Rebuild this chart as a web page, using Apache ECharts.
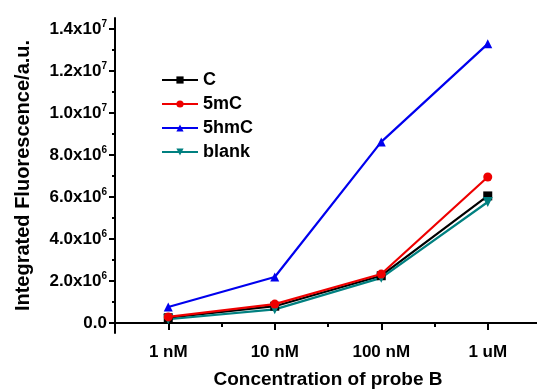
<!DOCTYPE html>
<html><head><meta charset="utf-8">
<script src="https://cdn.jsdelivr.net/npm/echarts@6/dist/echarts.min.js"></script>
<style>html,body{margin:0;padding:0;background:#fff}#c{width:537px;height:390px}</style>
</head><body><div id="c"></div>
<script>
const categories = ['1 nM', '10 nM', '100 nM', '1 uM'];
const seriesNames = ['C', '5mC', '5hmC', 'blank'];
const valC = [0.25e6, 0.8e6, 2.25e6, 6.05e6];
const val5mC = [0.29e6, 0.9e6, 2.33e6, 6.95e6];
const val5hmC = [0.76e6, 2.19e6, 8.62e6, 13.29e6];
const valBlank = [0.18e6, 0.65e6, 2.15e6, 5.76e6];
const yTickValues = [0, 2e6, 4e6, 6e6, 8e6, 10e6, 12e6, 14e6];
const yMinorValues = [1e6, 3e6, 5e6, 7e6, 9e6, 11e6, 13e6];
const xTickValues = [1, 2, 3, 4];
const xMinorValues = [0.5, 1.5, 2.5, 3.5, 4.5];

const FONT = 'Liberation Sans, Arial, sans-serif';
const colors = ['#000000', '#ee0000', '#0000ee', '#008080'];
const symbols = ['rect', 'circle', 'triangle', 'path://M0,0 L10,0 L5,9 Z'];
const allVals = [valC, val5mC, val5hmC, valBlank];

function yFmt(v) {
  if (v === 0) return '{a|0.0}';
  const e = Math.floor(Math.log10(v) + 1e-9);
  const m = v / Math.pow(10, e);
  return '{a|' + m.toFixed(1) + 'x10}{s|' + e + '}';
}
const rich = {
  a: {fontFamily: FONT, fontWeight: 'bold', fontSize: 17, color: '#000'},
  s: {fontFamily: FONT, fontWeight: 'bold', fontSize: 10, color: '#000', verticalAlign: 'top', padding: [0, 0, 9, 0]}
};

const chart = echarts.init(document.getElementById('c'));
const yMin = -0.476e6, yMax = 14.52e6;
chart.setOption({
  backgroundColor: '#fff',
  animation: false,
  grid: {left: 115, right: -4, top: 18, bottom: 57, outerBoundsMode: 'none', containLabel: false},
  legend: {
    orient: 'vertical', left: 156, top: 66, itemGap: 6,
    itemWidth: 36, itemHeight: 9,
    textStyle: {fontFamily: FONT, fontWeight: 'bold', fontSize: 18, color: '#000'},
    data: seriesNames
  },
  xAxis: [{
    type: 'value', min: 0.5, max: 4.5,
    name: 'Concentration of probe B', nameLocation: 'middle', nameGap: 37,
    nameTextStyle: {fontFamily: FONT, fontWeight: 'bold', fontSize: 19, color: '#000'},
    axisLine: {lineStyle: {color: '#000', width: 2}},
    axisTick: {length: 7, lineStyle: {color: '#000', width: 2}, customValues: xTickValues},
    axisLabel: {customValues: xTickValues, margin: 11, formatter: v => categories[Math.round(v) - 1],
      fontFamily: FONT, fontWeight: 'bold', fontSize: 17, color: '#000'},
    splitLine: {show: false}
  }, {
    type: 'value', min: 0.5, max: 4.5, position: 'bottom',
    axisLine: {show: false},
    axisTick: {length: 4, lineStyle: {color: '#000', width: 2}, customValues: xMinorValues},
    axisLabel: {show: false}, splitLine: {show: false}
  }],
  yAxis: [{
    type: 'value', min: yMin, max: yMax,
    name: 'Integrated Fluorescence/a.u.', nameLocation: 'middle', nameGap: 82, nameRotate: 90,
    nameTextStyle: {fontFamily: FONT, fontWeight: 'bold', fontSize: 20, color: '#000'},
    axisLine: {show: true, lineStyle: {color: '#000', width: 2}},
    axisTick: {show: true, length: 6, lineStyle: {color: '#000', width: 2}, customValues: yTickValues},
    axisLabel: {customValues: yTickValues, margin: 8, formatter: yFmt, rich: rich},
    splitLine: {show: false}
  }, {
    type: 'value', min: yMin, max: yMax, position: 'left',
    axisLine: {show: false},
    axisTick: {show: true, length: 3, lineStyle: {color: '#000', width: 2}, customValues: yMinorValues},
    axisLabel: {show: false}, splitLine: {show: false}
  }],
  series: seriesNames.map((n, i) => ({
    name: n, type: 'line', xAxisIndex: 0, yAxisIndex: 0,
    data: allVals[i].map((v, j) => [j + 1, v]),
    symbol: symbols[i], symbolSize: i === 3 ? 10 : 9,
    itemStyle: {color: colors[i]},
    lineStyle: {color: colors[i], width: 2.2},
    z: i === 1 ? 4 : 3
  }))
});
</script></body></html>
